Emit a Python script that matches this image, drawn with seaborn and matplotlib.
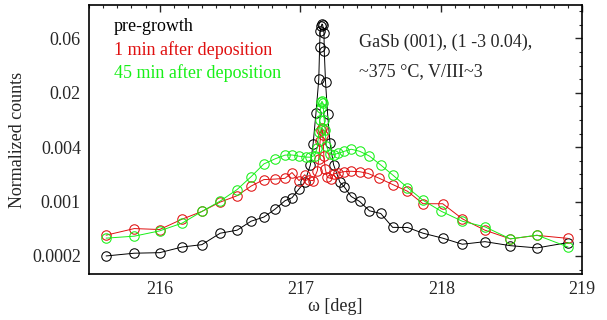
import numpy as np
import pandas as pd
import matplotlib
matplotlib.use("Agg")
import matplotlib.pyplot as plt
import seaborn as sns
from matplotlib.ticker import FixedLocator, FixedFormatter, MultipleLocator

# omega scan positions [deg] and normalized counts
omega_pre = [215.62, 215.82, 216.00, 216.16, 216.30, 216.43, 216.55, 216.65, 216.74, 216.82,
             216.89, 216.94, 216.99, 217.03, 217.07, 217.09, 217.11, 217.13, 217.136, 217.14,
             217.148, 217.153, 217.157, 217.167, 217.169, 217.178, 217.193, 217.21, 217.235, 217.28,
             217.31, 217.36, 217.42, 217.49, 217.57, 217.655, 217.76, 217.87, 218.01, 218.15,
             218.31, 218.49, 218.68, 218.90]
counts_pre = [0.000200, 0.000215, 0.000218, 0.000253, 0.000269, 0.000363, 0.000393, 0.000498, 0.000554, 0.000683,
              0.000850, 0.000920, 0.00116, 0.00138, 0.00216, 0.00381, 0.00845, 0.0204, 0.0480, 0.0731,
              0.0827, 0.0872, 0.0860, 0.0694, 0.0428, 0.0191, 0.00817, 0.00384, 0.00219, 0.00138,
              0.00123, 0.00095, 0.000835, 0.000653, 0.000609, 0.000423, 0.000422, 0.000363, 0.000319, 0.000272,
              0.000291, 0.000262, 0.000247, 0.000284]

omega_1min = [215.62, 215.82, 216.00, 216.16, 216.30, 216.43, 216.55, 216.65, 216.74, 216.82,
              216.89, 216.94, 216.99, 217.03, 217.06, 217.09, 217.12, 217.13, 217.14, 217.148,
              217.153, 217.159, 217.166, 217.176, 217.19, 217.22, 217.235, 217.264, 217.307, 217.36,
              217.42, 217.48, 217.56, 217.655, 217.76, 217.87, 218.01, 218.15, 218.31, 218.49,
              218.68, 218.90]
counts_1min = [0.000345, 0.000410, 0.000400, 0.000525, 0.000642, 0.000821, 0.000970, 0.00125, 0.00148, 0.00150,
               0.00153, 0.00178, 0.00144, 0.00168, 0.00146, 0.00144, 0.00187, 0.00257, 0.00412, 0.00536,
               0.00565, 0.00470, 0.00278, 0.00196, 0.00157, 0.00152, 0.00172, 0.00176, 0.00182, 0.00184,
               0.00182, 0.00174, 0.00153, 0.00130, 0.00109, 0.000786, 0.000786, 0.000529, 0.000393, 0.000313,
               0.000343, 0.000317]

omega_45min = [215.62, 215.82, 216.00, 216.16, 216.30, 216.43, 216.55, 216.65, 216.74, 216.82,
               216.89, 216.94, 216.99, 217.04, 217.07, 217.10, 217.12, 217.13, 217.136, 217.143,
               217.148, 217.153, 217.16, 217.169, 217.176, 217.183, 217.207, 217.235, 217.27, 217.307,
               217.36, 217.42, 217.49, 217.57, 217.655, 217.76, 217.87, 218.00, 218.15, 218.31,
               218.49, 218.68, 218.90]
counts_45min = [0.000319, 0.000336, 0.000386, 0.000473, 0.000642, 0.000843, 0.00114, 0.00160, 0.00223, 0.00255,
                0.00281, 0.00282, 0.00273, 0.00267, 0.00266, 0.00278, 0.00343, 0.00509, 0.00697, 0.00956,
                0.0112, 0.0115, 0.0109, 0.00697, 0.00536, 0.00361, 0.00289, 0.00285, 0.00295, 0.00309,
                0.00328, 0.00311, 0.00274, 0.00217, 0.00167, 0.00120, 0.000861, 0.000645, 0.000496, 0.000429,
                0.000313, 0.000345, 0.000253]

labels = ["pre-growth", "1 min after deposition", "45 min after deposition"]
colors = ["black", "#e01010", "#18f018"]

# y ticks sit at equal log steps; the printed labels are the rounded values
ytick_pos = [0.0002 * 300 ** (k / 4) for k in range(5)]
ytick_labels = ["0.0002", "0.001", "0.004", "0.02", "0.06"]

sns.set_style("white")
plt.rcParams["font.family"] = ["Liberation Serif", "DejaVu Serif"]

fig, ax = plt.subplots(figsize=(6.07, 3.2), dpi=100)
fig.subplots_adjust(left=0.147, right=0.959, top=0.984, bottom=0.144)

series = [(omega_pre, counts_pre), (omega_1min, counts_1min), (omega_45min, counts_45min)]
for (om, ct), lab, col in zip(series, labels, colors):
    df = pd.DataFrame({"omega": om, "counts": ct})
    sns.lineplot(data=df, x="omega", y="counts", ax=ax, color=col, estimator=None, sort=False,
                 linewidth=0.7, marker="o", markersize=6.8, markerfacecolor="none",
                 markeredgecolor=col, markeredgewidth=0.75, legend=False)

ax.set_yscale("log")
ax.set_xlim(215.5, 219.0)
ax.set_ylim(0.0002 * 300 ** (-0.33 / 4), 0.0002 * 300 ** (4.61 / 4))

ax.yaxis.set_major_locator(FixedLocator(ytick_pos))
ax.yaxis.set_major_formatter(FixedFormatter(ytick_labels))
ymin_steps = [0.0002 * 300 ** (k / 16) for k in range(-4, 20) if k % 4 != 0]
ax.yaxis.set_minor_locator(FixedLocator(ymin_steps))
ax.yaxis.set_minor_formatter(FixedFormatter([""] * len(ymin_steps)))
ax.xaxis.set_major_locator(FixedLocator([216, 217, 218, 219]))
ax.xaxis.set_minor_locator(MultipleLocator(0.1))

ax.tick_params(which="both", direction="in", top=True, right=True, labelsize=13)
ax.tick_params(axis="y", pad=6)
ax.tick_params(axis="x", pad=5)
ax.tick_params(which="major", length=5, width=1.0)
ax.tick_params(which="minor", length=2.5, width=0.8)
for sp in ax.spines.values():
    sp.set_linewidth(1.2)
    sp.set_color("black")

ax.set_xlabel("ω [deg]", fontsize=13, labelpad=0)
ax.set_ylabel("Normalized counts", fontsize=13, labelpad=4)

for i, (lab, col) in enumerate(zip(labels, colors)):
    ax.text(0.05, 0.92 - i * 0.087, lab, color=col, fontsize=13, transform=ax.transAxes, va="center")

ax.text(0.548, 0.863, "GaSb (001), (1 -3 0.04),", fontsize=13, transform=ax.transAxes, va="center")
ax.text(0.548, 0.752, "~375 °C, V/III~3", fontsize=13, transform=ax.transAxes, va="center")

plt.savefig("out.png", dpi=100)
